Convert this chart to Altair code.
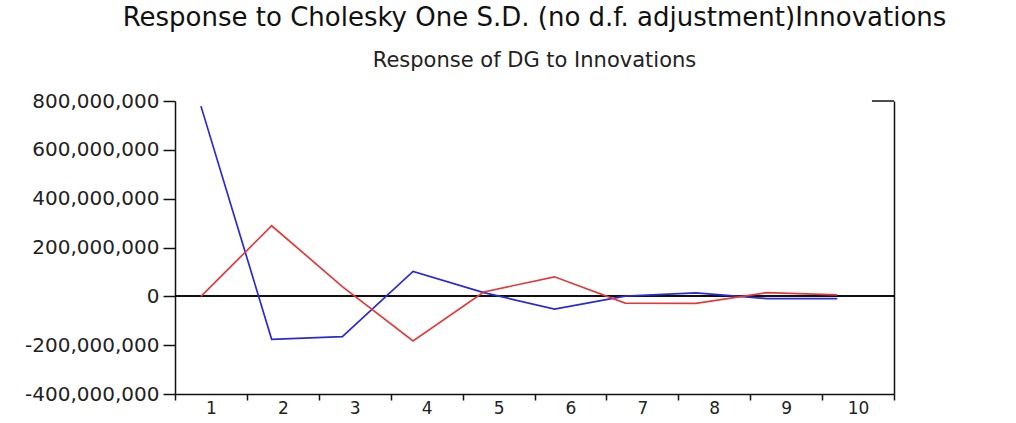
import altair as alt
import pandas as pd

# ---- data ----
steps = [1, 2, 3, 4, 5, 6, 7, 8, 9, 10]
resp_blue = [779e6, -176e6, -165e6, 102e6, 15e6, -52e6, 1e6, 14e6, -9e6, -9e6]
resp_red = [0, 289e6, 40e6, -183e6, 18e6, 80e6, -28e6, -29e6, 15e6, 6e6]
series_names = ["Shock 1", "Shock 2"]
y_ticks = [-400e6, -200e6, 0, 200e6, 400e6, 600e6, 800e6]

title_main = "Response to Cholesky One S.D. (no d.f. adjustment)Innovations"
title_sub = "Response of DG to Innovations"

rows = []
for s, v in zip(steps, resp_blue):
    rows.append({"step": s, "value": v, "series": series_names[0]})
for s, v in zip(steps, resp_red):
    rows.append({"step": s, "value": v, "series": series_names[1]})
df = pd.DataFrame(rows)

# ---- x scale layout (EViews style: ticks between periods) ----
X0, X1 = 0.633, 10.802
STEP = (X1 - X0) / 10
boundaries = [X0 + j * STEP for j in range(11)]

W, H = 719, 293
FONT = "DejaVu Sans"
BLUE = "#2a2ad2"
RED = "#e23a3a"

xscale = alt.Scale(domain=[X0, X1], nice=False, zero=False)
yscale = alt.Scale(domain=[y_ticks[0], y_ticks[-1]], nice=False, zero=False)

x_axis = alt.Axis(
    values=boundaries,
    tickSize=6, tickWidth=1.5, tickColor="#111",
    domainColor="#111", domainWidth=1.5,
    labelExpr=f"datum.value < {X0 + 0.5} ? '' : format(round((datum.value - {X0}) / {STEP}), 'd')",
    labelOffset=-W / 20,
    labelPadding=0,
    labelFont=FONT, labelFontSize=17, labelColor="#222",
    labelOverlap=False, labelBound=False, labelFlush=False,
    grid=False, title=None,
)

y_axis = alt.Axis(
    values=y_ticks,
    tickSize=12, tickWidth=1.5, tickColor="#111",
    domainColor="#111", domainWidth=1.5,
    labelExpr="replace(format(datum.value, ',d'), '\u2212', '-')",
    labelPadding=4,
    labelFont=FONT, labelFontSize=20, labelColor="#222",
    labelOverlap=False,
    grid=False, title=None,
)

zero = alt.Chart(df).mark_rule(color="#111", strokeWidth=1).encode(
    y=alt.YDatum(0, scale=yscale, axis=None)
)

lines = alt.Chart(df).mark_line(strokeWidth=1.7).encode(
    x=alt.X("step:Q", scale=xscale, axis=x_axis),
    y=alt.Y("value:Q", scale=yscale, axis=y_axis),
    color=alt.Color("series:N", scale=alt.Scale(domain=series_names, range=[BLUE, RED]), legend=None),
)

right = alt.Chart(df).mark_line(opacity=0).encode(
    x=alt.X("step:Q", scale=xscale, axis=x_axis),
    y=alt.Y("value:Q", scale=yscale,
            axis=alt.Axis(orient="right", labels=False, ticks=False, domain=True,
                          domainColor="#111", domainWidth=1.5, grid=False, title=None)),
    detail="series:N",
)

corner_df = pd.DataFrame({"step": [10.49], "x2": [X1], "y": [y_ticks[-1]]})
corner = alt.Chart(corner_df).mark_rule(color="#111", strokeWidth=1.5).encode(
    x=alt.X("step:Q", scale=xscale, axis=x_axis),
    x2="x2:Q",
    y=alt.Y("y:Q", scale=yscale, axis=None),
)

chart = (
    alt.layer(zero, lines, right, corner)
    .resolve_axis(y="independent")
    .properties(
        width=W, height=H,
        autosize=alt.AutoSizeParams(type="none"),
        padding={"left": 175, "top": 101, "right": 1016 - 175 - W, "bottom": 423 - 101 - H},
        title=alt.TitleParams(
            text=title_main, subtitle=title_sub,
            anchor="middle", font=FONT, fontSize=26, fontWeight="normal", color="#111",
            subtitleFont=FONT, subtitleFontSize=21, subtitleColor="#222",
            subtitlePadding=19, offset=20,
        ),
        background="white",
    )
    .configure_view(stroke=None)
)

chart.save("out.html", embed_options={"renderer": "svg", "actions": False})
